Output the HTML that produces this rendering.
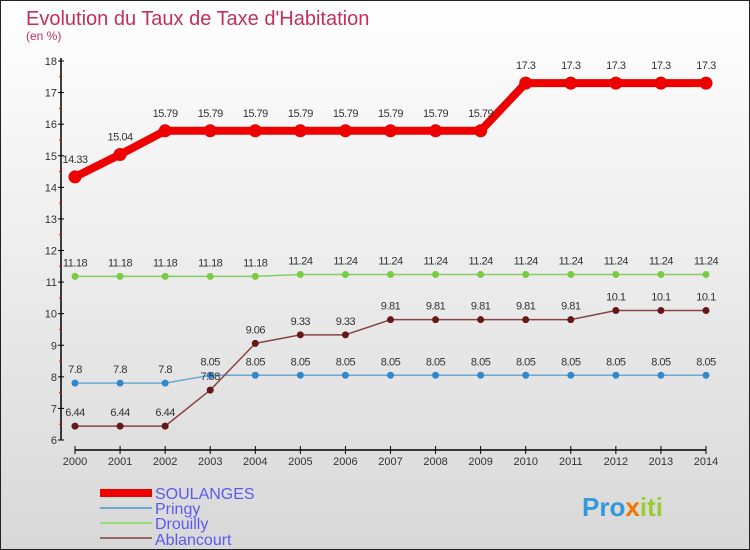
<!DOCTYPE html>
<html><head><meta charset="utf-8"><style>
body{margin:0}
#c{width:750px;height:550px;position:relative;overflow:hidden}
svg text{font-family:"Liberation Sans",sans-serif}
</style></head><body>
<div id="c">
<svg id="s" width="750" height="550" xmlns="http://www.w3.org/2000/svg">
<defs><linearGradient id="bg" x1="0" y1="0" x2="0" y2="1"><stop offset="0" stop-color="#ffffff"/><stop offset="1" stop-color="#d8d8d8"/></linearGradient></defs>
<rect x="0.5" y="0.5" width="749" height="549" fill="url(#bg)" stroke="#222"/>
<text x="26" y="25" font-size="20" fill="#c0305a">Evolution du Taux de Taxe d'Habitation</text>
<text x="26" y="40" font-size="12" fill="#c0305a">(en %)</text>
<g id="axes"></g><g id="series"></g>
<g>
<rect x="100" y="489" width="52" height="8" fill="#ee0000"/>
<text x="155" y="499" font-size="16" fill="#5a5aee">SOULANGES</text>
<rect x="100" y="507" width="52" height="2" fill="#6aaad0"/>
<text x="155" y="514" font-size="16" fill="#5a5aee">Pringy</text>
<rect x="100" y="522" width="52" height="2" fill="#99dd77"/>
<text x="155" y="529" font-size="16" fill="#5a5aee">Drouilly</text>
<rect x="100" y="537" width="52" height="2" fill="#996666"/>
<text x="155" y="545" font-size="16" fill="#5a5aee">Ablancourt</text>
</g>
<text x="582" y="516" font-size="26" font-weight="bold" fill="#3399dd">Pro<tspan fill="#ee7700">x</tspan><tspan fill="#99cc33">iti</tspan></text>
</svg></div>
<script>
const years=[2000,2001,2002,2003,2004,2005,2006,2007,2008,2009,2010,2011,2012,2013,2014];
const yTicks=[6,7,8,9,10,11,12,13,14,15,16,17,18];
const soulanges=[14.33,15.04,15.79,15.79,15.79,15.79,15.79,15.79,15.79,15.79,17.3,17.3,17.3,17.3,17.3];
const pringy=[7.8,7.8,7.8,8.05,8.05,8.05,8.05,8.05,8.05,8.05,8.05,8.05,8.05,8.05,8.05];
const drouilly=[11.18,11.18,11.18,11.18,11.18,11.24,11.24,11.24,11.24,11.24,11.24,11.24,11.24,11.24,11.24];
const ablancourt=[6.44,6.44,6.44,7.58,9.06,9.33,9.33,9.81,9.81,9.81,9.81,9.81,10.1,10.1,10.1];
const NS='http://www.w3.org/2000/svg';
const xs=i=>75+i*(706-75)/14;
const ys=v=>440-(v-6)*(440-61)/12;
function mk(t,a,p){const e=document.createElementNS(NS,t);for(const k in a)e.setAttribute(k,a[k]);p.appendChild(e);return e;}
const ax=document.getElementById('axes');
let l=mk('line',{x1:61,y1:58,x2:61,y2:440,stroke:'#000','stroke-width':1.5},ax);


l=mk('line',{x1:75,y1:450,x2:706,y2:450,stroke:'#000','stroke-width':1.5},ax);


yTicks.forEach((v,i)=>{
 mk('line',{x1:58,x2:64,y1:ys(v),y2:ys(v),stroke:'#000'},ax);
 if(i<yTicks.length-1) mk('line',{x1:59,x2:62,y1:ys(v+0.5),y2:ys(v+0.5),stroke:'#f00'},ax);
 const t=mk('text',{x:57,y:ys(v)+4,'font-size':11,'text-anchor':'end',fill:'#333'},ax);t.textContent=v;
 
 
});
years.forEach((y,i)=>{
 mk('line',{x1:xs(i),x2:xs(i),y1:446,y2:454,stroke:'#000'},ax);
 const t=mk('text',{x:xs(i),y:465,'font-size':11,'text-anchor':'middle',fill:'#333'},ax);t.textContent=y;
 
 
});
const sg=document.getElementById('series');
function draw(name,vals,color,w,r,fill,labelDy){
 const g=mk('g',{},sg);
 
 
 const pl=mk('polyline',{points:vals.map((v,i)=>xs(i)+','+ys(v)).join(' '),fill:'none',stroke:color,'stroke-width':w,'stroke-linejoin':'round'},g);
 
 
 vals.forEach((v,i)=>{
  const c=mk('circle',{cx:xs(i),cy:ys(v),r:r,fill:fill},g);
  
  
  const t=mk('text',{x:xs(i),y:ys(v)+labelDy,'font-size':11,'text-anchor':'middle',fill:'#333','letter-spacing':'-0.5'},g);
  t.textContent=v;
  
  
 });
}
draw('drouilly',drouilly,'#88cc66',1.5,3.5,'#77cc44',-10);
draw('pringy',pringy,'#6aaad0',1.5,3.5,'#3388cc',-10);
draw('ablancourt',ablancourt,'#884444',1.5,3.5,'#661818',-10);
draw('soulanges',soulanges,'#ee0000',8,6.5,'#ee0000',-14);
</script>
</body></html>
